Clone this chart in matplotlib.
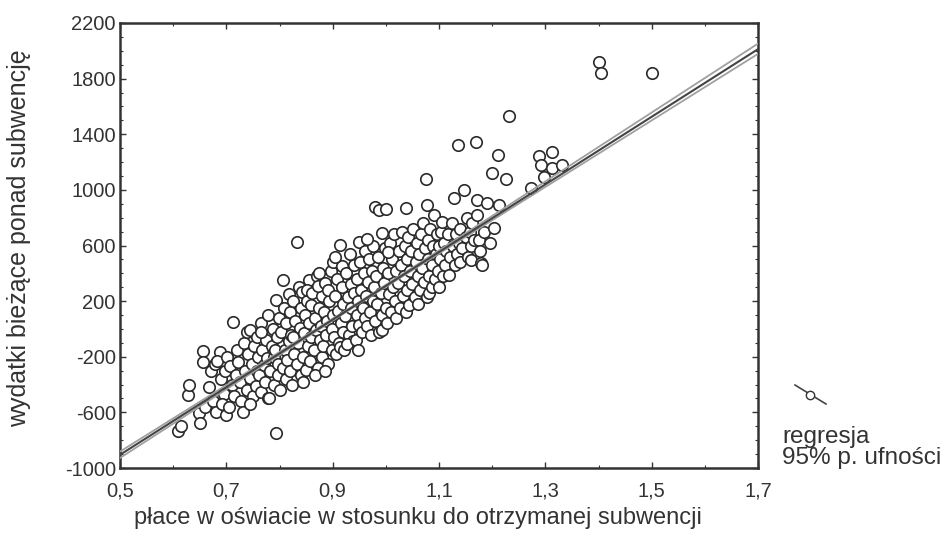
import numpy as np
import matplotlib
matplotlib.use("Agg")
import matplotlib.pyplot as plt
from matplotlib.lines import Line2D
from matplotlib.ticker import MultipleLocator, FixedLocator

plt.rcParams['font.family'] = ['Liberation Sans', 'DejaVu Sans']

## data (x: relative wages, y: spending above subsidy)
x_vals = [
    0.609, 0.615, 0.628, 0.629,
    0.648, 0.650, 0.656, 0.656, 0.660,
    0.668, 0.672, 0.675, 0.678, 0.680,
    0.688, 0.683, 0.690, 0.695, 0.698, 0.700, 0.692,
    0.702, 0.706, 0.712, 0.710, 0.715, 0.718, 0.705, 0.720,
    0.722, 0.725, 0.728, 0.731, 0.733, 0.735, 0.738, 0.740, 0.739,
    0.744, 0.745, 0.748, 0.750, 0.752, 0.755, 0.758, 0.757, 0.760, 0.745,
    0.762, 0.765, 0.766, 0.768, 0.770, 0.772, 0.775, 0.777, 0.778, 0.779, 0.765,
    0.781, 0.782, 0.785, 0.787, 0.789, 0.790, 0.794, 0.794, 0.795, 0.797, 0.799, 0.798, 0.792,
    0.801, 0.803, 0.806, 0.806, 0.808, 0.810, 0.812, 0.813, 0.815, 0.817, 0.818, 0.820, 0.820,
    0.822, 0.824, 0.826, 0.828, 0.830, 0.832, 0.833, 0.835, 0.836, 0.838, 0.840, 0.840, 0.826,
    0.843, 0.844, 0.846, 0.848, 0.850, 0.851, 0.853, 0.855, 0.856, 0.858, 0.860, 0.860, 0.845, 0.852,
    0.862, 0.864, 0.866, 0.868, 0.870, 0.872, 0.874, 0.875, 0.876, 0.878, 0.880, 0.880, 0.866, 0.872,
    0.882, 0.884, 0.886, 0.888, 0.890, 0.892, 0.894, 0.896, 0.898, 0.900, 0.900, 0.886, 0.892, 0.899,
    0.902, 0.904, 0.906, 0.908, 0.910, 0.912, 0.913, 0.913, 0.915, 0.917, 0.918, 0.920, 0.920, 0.905,
    0.922, 0.924, 0.926, 0.928, 0.930, 0.932, 0.934, 0.935, 0.937, 0.938, 0.940, 0.940, 0.927,
    0.944, 0.945, 0.946, 0.948, 0.950, 0.950, 0.952, 0.954, 0.955, 0.957, 0.958, 0.960, 0.960, 0.947,
    0.962, 0.964, 0.966, 0.968, 0.970, 0.972, 0.974, 0.975, 0.976, 0.978, 0.980, 0.980, 0.965,
    0.982, 0.984, 0.986, 0.988, 0.988, 0.990, 0.992, 0.993, 0.993, 0.995, 0.996, 0.998, 1.000, 1.000,
    1.002, 1.004, 1.006, 1.008, 1.010, 1.012, 1.014, 1.016, 1.018, 1.020, 1.020, 1.005,
    1.022, 1.024, 1.026, 1.028, 1.030, 1.032, 1.034, 1.036, 1.038, 1.038, 1.040, 1.040,
    1.042, 1.044, 1.046, 1.048, 1.050, 1.052, 1.054, 1.056, 1.058, 1.060, 1.060,
    1.062, 1.064, 1.066, 1.068, 1.070, 1.072, 1.074, 1.076, 1.078, 1.078, 1.080, 1.081, 1.080,
    1.082, 1.084, 1.086, 1.087, 1.088, 1.090, 1.092, 1.094, 1.096, 1.098, 1.100, 1.100,
    1.102, 1.104, 1.106, 1.108, 1.110, 1.112, 1.114, 1.116, 1.119, 1.120,
    1.124, 1.126, 1.128, 1.130, 1.132, 1.134, 1.136, 1.138, 1.140, 1.140,
    1.144, 1.147, 1.150, 1.153, 1.155, 1.158, 1.160, 1.160,
    1.162, 1.165, 1.169, 1.171, 1.172, 1.175, 1.178, 1.179,
    1.181, 1.185, 1.190, 1.195, 1.200,
    1.203, 1.211, 1.213, 1.226, 1.231, 1.273, 1.288, 1.291, 1.297, 1.312, 1.312, 1.331,
    1.400, 1.405, 1.501,
]
y_vals = [
    -734, -700, -475, -403,
    -604, -676, -158, -237, -560,
    -420, -300, -520, -250, -600,
    -165, -230, -360, -470, -300, -618, -540,
    -200, -270, 50, -400, -480, -330, -560, -150,
    -240, -380, -520, -597, -100, -300, -440, -180, -20,
    -7, -350, -250, -480, -120, -410, -60, -300, -200, -540,
    -330, 43, -450, -150, -260, -380, -80, -210, 100, -500, -20,
    -496, -300, -120, 0, -400, -200, 208, -748, -60, -330, 80, -250, -150,
    -440, -20, 352, -280, 150, -150, -360, 40, -220, -90, 250, -300, 120,
    -40, -400, 200, -180, 60, 625, -250, -100, 300, 10, -330, 150, -60,
    266, -200, -30, 100, -295, 200, -120, 350, 40, -230, -60, 170, -380, 280,
    260, -150, 80, -10, 380, -280, 150, 402, -80, 20, 240, -200, -330, 310,
    -120, 120, 330, -40, 60, -250, 200, 420, -150, 482, 100, -300, 280, 0,
    -60, 240, -180, 360, 130, -100, 604, -130, 40, 300, 450, -20, 180, 520,
    -150, 90, 400, 230, -40, 540, 150, 320, 20, -90, 260, 460, -110,
    -79, 100, 360, 200, 625, 30, 480, 280, -20, 150, 400, 560, 80, -150,
    240, 20, 340, 500, 120, -40, 420, 600, 200, 300, 880, 60, 650,
    380, 180, 520, 855, -20, 260, 100, 690, -7, 440, 330, 580, 860, 150,
    40, 400, 250, 620, 120, 500, 300, 680, 200, 420, 80, 550,
    330, 560, 150, 460, 700, 240, 380, 600, 870, 120, 500, 280,
    660, 172, 420, 560, 320, 720, 230, 480, 620, 380, 180,
    540, 280, 680, 440, 760, 340, 580, 1078, 891, 230, 500, 259, 640,
    380, 720, 460, 302, 600, 820, 360, 540, 680, 420, 600, 300,
    500, 700, 769, 380, 620, 460, 560, 680, 388, 520,
    762, 600, 942, 460, 680, 540, 1322, 620, 720, 480,
    580, 999, 660, 798, 520, 700, 496, 600,
    760, 640, 1344, 927, 820, 640, 560, 474,
    460, 700, 906, 620, 1122,
    726, 1251, 891, 1078, 1531, 1014, 1244, 1179, 1093, 1272, 1157, 1179,
    1920, 1840, 1840,
]

# regression line and 95% confidence limits
reg_x = [0.5, 0.95, 1.7]
reg_y = [-905, 188, 2012]
ci_upper = [-882, 193, 2052]
ci_lower = [-928, 183, 1978]

x_ticks = [0.5, 0.7, 0.9, 1.1, 1.3, 1.5, 1.7]
y_ticks = [-1000, -600, -200, 200, 600, 1000, 1400, 1800, 2200]

fig = plt.figure(figsize=(9.47, 5.37), dpi=100)
ax = fig.add_axes([120 / 947, 1 - 468 / 537, 638 / 947, 445 / 537])

ax.scatter(x_vals, y_vals, s=68, facecolors='white', edgecolors='#2a2a2a', linewidths=1.2, zorder=2)
ax.plot(reg_x, ci_upper, color='#a0a0a0', lw=1.3, zorder=3)
ax.plot(reg_x, ci_lower, color='#a0a0a0', lw=1.3, zorder=3)
ax.plot(reg_x, reg_y, color='#444444', lw=1.5, zorder=4)

ax.set_xlim(0.5, 1.7)
ax.set_ylim(-1000, 2200)
ax.xaxis.set_major_locator(FixedLocator(x_ticks))
ax.xaxis.set_minor_locator(MultipleLocator(0.1))
ax.yaxis.set_major_locator(FixedLocator(y_ticks))
ax.yaxis.set_minor_locator(MultipleLocator(100))
ax.set_xticklabels([f"{t:.1f}".replace('.', ',') for t in x_ticks])
ax.set_yticklabels([str(t) for t in y_ticks])

ax.tick_params(which='both', direction='in', top=True, right=True, color='#333333')
ax.tick_params(which='major', length=4, width=1)
ax.tick_params(which='minor', length=2.5, width=0.8)
ax.tick_params(axis='both', labelsize=14.5, labelcolor='#333333')
ax.tick_params(axis='y', pad=3)
ax.tick_params(axis='x', pad=10)
for sp in ax.spines.values():
    sp.set_linewidth(1.8)
    sp.set_color('#333333')

ax.set_xlabel("płace w oświacie w stosunku do otrzymanej subwencji", fontsize=17, color='#333333')
ax.set_ylabel("wydatki bieżące ponad subwencję", fontsize=18, color='#333333')
ax.xaxis.set_label_coords(0.467, -0.088)
ax.yaxis.set_label_coords(-0.14, 0.517)

# legend drawn by hand outside the axes, slanted symbol like the original
fig.add_artist(Line2D([795 / 947, 826 / 947], [1 - 385 / 537, 1 - 404 / 537],
                      color='#444444', lw=1.2))
fig.add_artist(Line2D([810 / 947], [1 - 394.5 / 537], marker='o', markersize=6,
                      markerfacecolor='white', markeredgecolor='#333333', lw=0))
fig.text(782 / 947, 1 - 437 / 537, "regresja", fontsize=17.5, color='#333333', va='center')
fig.text(782 / 947, 1 - 458 / 537, "95% p. ufności", fontsize=17.5, color='#333333', va='center')

fig.savefig("out.png", dpi=100)
